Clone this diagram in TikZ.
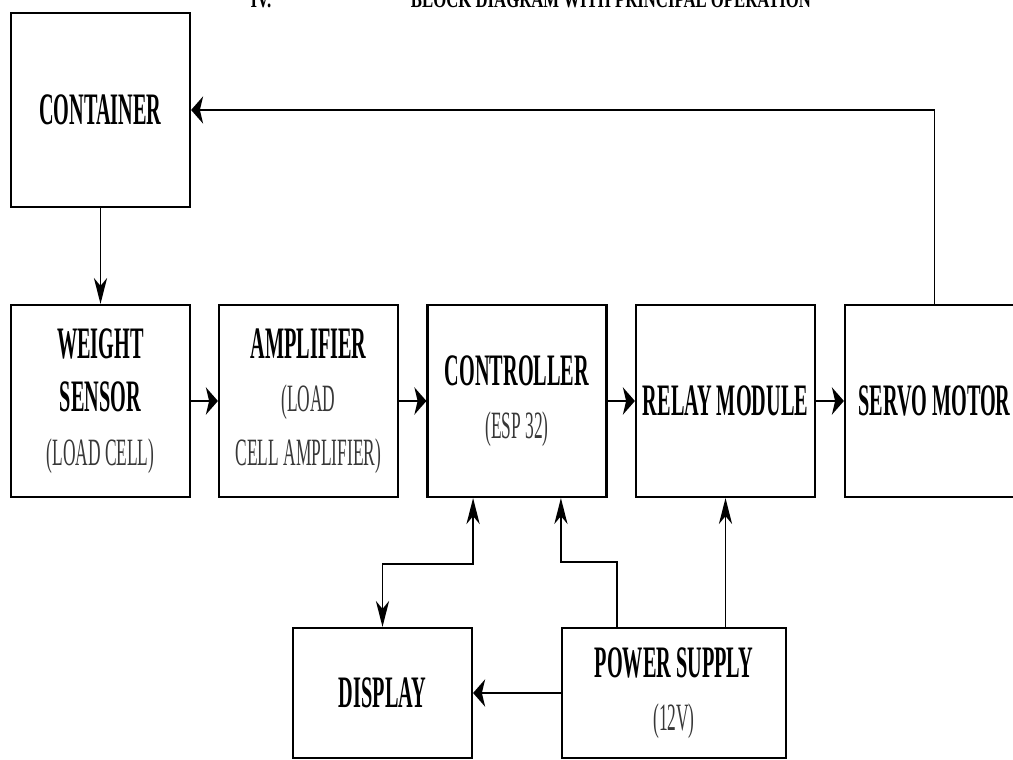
\documentclass[tikz,border=0pt]{standalone}
\usepackage{fontspec}
\setmainfont{Liberation Serif}
\newfontfamily\blkfont{Liberation Serif}[FakeStretch=0.45]
\newfontfamily\ttlfont{Liberation Serif}[FakeStretch=0.7]
\newcommand{\subtxt}[1]{{\mdseries\fontsize{27.5}{38}\selectfont\color{black!78}#1}}
\usetikzlibrary{positioning,arrows.meta}

\begin{document}
\begin{tikzpicture}[x=0.025cm, y=-0.025cm,
                    blk/.style={draw, line width=1.5pt, inner sep=0pt, align=center,
                                minimum width=4.475cm,
                                font=\blkfont\bfseries\fontsize{32}{38}\selectfont},
                    rowblk/.style={blk, minimum height=4.8cm},
                    lowblk/.style={blk, minimum height=3.25cm},
                    hx/.style={-{Stealth[length=0.3cm, width=0.68cm, inset=0.08cm]}},
                    vx/.style={-{Stealth[length=0.65cm, width=0.33cm, inset=0.2cm]}},
                    flow/.style={hx, line width=2pt},
                    fb/.style={line width=1.3pt},
                    pwr/.style={vx, line width=1pt}]
  \useasboundingbox (0,0) rectangle (1013,760);
  \clip (0,0) rectangle (1013,760);
  \node[font=\ttlfont\bfseries\fontsize{17}{20}\selectfont, anchor=base] (num) at (261,8) {IV.};
  \node[font=\ttlfont\bfseries\fontsize{17}{20}\selectfont, anchor=base] (ttl) at (611,8) {BLOCK DIAGRAM WITH PRINCIPAL OPERATION};
  \node[blk, minimum height=4.85cm] (cont) at (100.5,110) {CONTAINER};
  \node[rowblk] (ws)    at (100.5,401) {WEIGHT\\SENSOR\\\subtxt{(LOAD CELL)}};
  \node[rowblk] (amp)   at (308.5,401) {AMPLIFIER\\\subtxt{(LOAD}\\\subtxt{CELL AMPLIFIER)}};
  \node[rowblk] (ctrl)  at (517,401)   {CONTROLLER\\\subtxt{(ESP 32)}};
  \node[rowblk] (relay) at (725.5,401) {RELAY MODULE};
  \node[rowblk] (servo) at (934.5,401) {SERVO MOTOR};
  \node[lowblk] (disp)  at (382.5,693) {DISPLAY};
  \node[lowblk, minimum width=5.6cm] (ps) at (674,693) {POWER SUPPLY\\\subtxt{(12V)}};
  \draw[vx, line width=1pt] (cont) -- (ws);
  \foreach \a/\b in {ws/amp, amp/ctrl, ctrl/relay, relay/servo}
    \draw[flow] (\a) -- (\b);
  \draw[fb, hx] (servo.north) |- (cont.east);
  \draw[line width=1.4pt, {Stealth[length=0.65cm, width=0.33cm, inset=0.2cm]}-{Stealth[length=0.65cm, width=0.33cm, inset=0.2cm]}]
    (disp.east |- ctrl.south) -- ++(0,66) -| (disp.north);
  \draw[pwr] ([xshift=1.4cm]ps.north west) -- ++(0,-65) -| (ps.west |- ctrl.south);
  \draw[pwr] (ps.north -| relay.south) -- (relay.south);
  \draw[flow] (ps) -- (disp);
\end{tikzpicture}
\end{document}
